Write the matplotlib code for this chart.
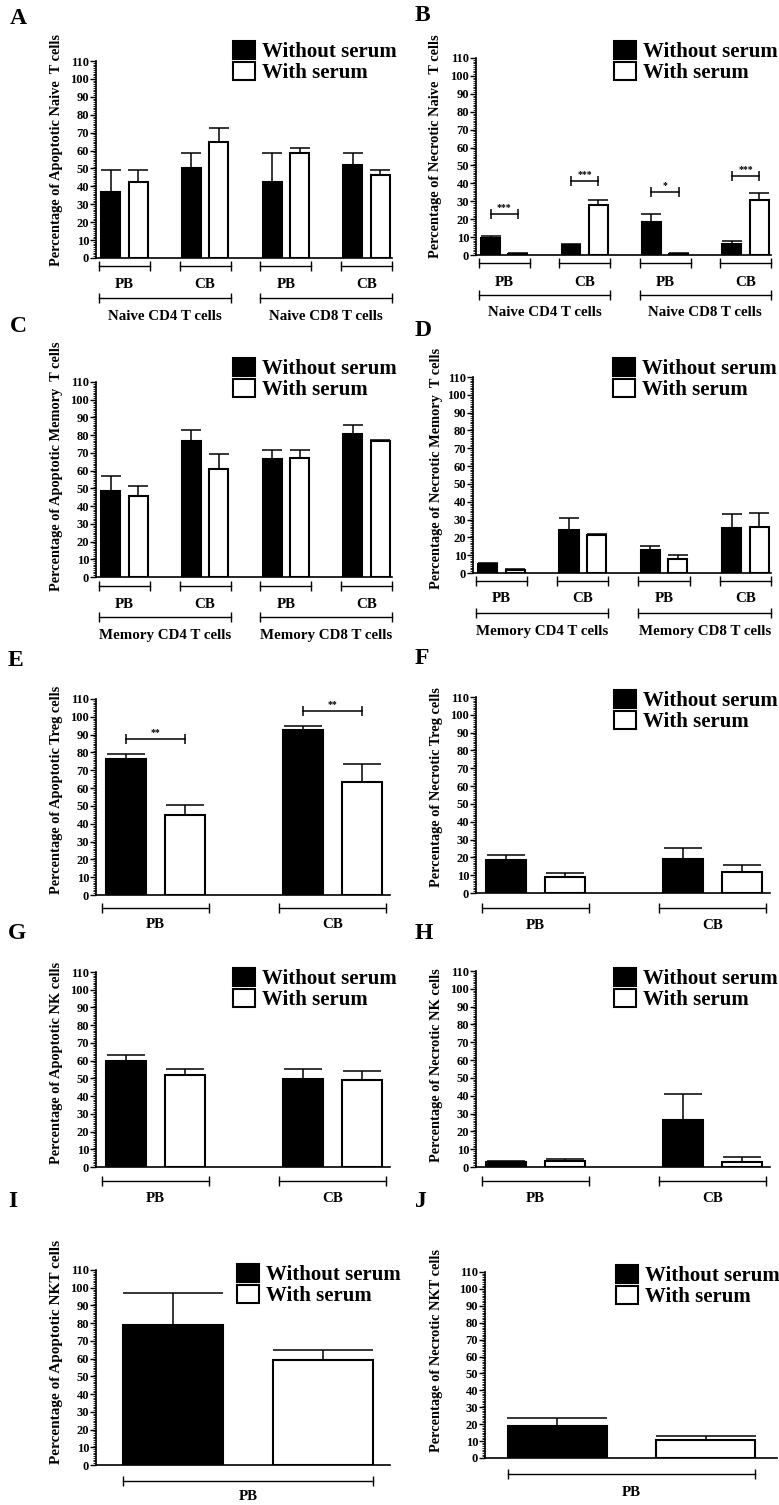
import numpy as np
import matplotlib
matplotlib.use('Agg')
import matplotlib.pyplot as plt
from matplotlib import transforms

# ---- data ----
sites4 = ['PB', 'CB', 'PB', 'CB']
sites2 = ['PB', 'CB']
sites1 = ['PB']
naive_groups = ['Naive CD4 T cells', 'Naive CD8 T cells']
memory_groups = ['Memory CD4 T cells', 'Memory CD8 T cells']

apo_naive_wo = [36.9, 50.0, 42.3, 51.8]
apo_naive_wo_err = [12.1, 8.4, 16.1, 7.1]
apo_naive_w = [42.5, 64.5, 58.7, 46.2]
apo_naive_w_err = [6.9, 8.0, 3.0, 3.2]

nec_naive_wo = [9.7, 5.4, 18.4, 6.3]
nec_naive_wo_err = [1.1, 0.7, 4.5, 1.5]
nec_naive_w = [0.7, 27.9, 0.7, 30.7]
nec_naive_w_err = [0.5, 2.6, 0.5, 3.7]
nec_naive_sig = ['***', '***', '*', '***']
nec_naive_sig_y = [22.9, 41.1, 35.2, 43.9]

apo_mem_wo = [48.5, 76.5, 66.7, 80.8]
apo_mem_wo_err = [8.3, 6.5, 5.1, 5.2]
apo_mem_w = [45.5, 60.9, 67.1, 76.5]
apo_mem_w_err = [6.0, 8.5, 4.7, 0.9]

nec_mem_wo = [5.0, 24.2, 13.0, 25.5]
nec_mem_wo_err = [0.6, 6.9, 2.3, 7.5]
nec_mem_w = [1.7, 21.1, 7.8, 25.7]
nec_mem_w_err = [0.5, 0.7, 2.1, 8.0]

apo_treg_wo = [76.3, 92.6]
apo_treg_wo_err = [2.7, 2.3]
apo_treg_w = [44.9, 63.6]
apo_treg_w_err = [5.6, 9.7]
apo_treg_sig = ['**', '**']
apo_treg_sig_y = [87.3, 103.3]

nec_treg_wo = [18.4, 19.0]
nec_treg_wo_err = [3.0, 6.3]
nec_treg_w = [9.2, 12.0]
nec_treg_w_err = [2.3, 3.6]

apo_nk_wo = [59.6, 49.8]
apo_nk_wo_err = [3.8, 5.3]
apo_nk_w = [51.7, 49.3]
apo_nk_w_err = [3.8, 4.7]

nec_nk_wo = [2.8, 26.2]
nec_nk_wo_err = [0.8, 15.0]
nec_nk_w = [3.6, 3.0]
nec_nk_w_err = [0.9, 2.4]

apo_nkt_wo = [79.0]
apo_nkt_wo_err = [18.0]
apo_nkt_w = [59.5]
apo_nkt_w_err = [5.5]

nec_nkt_wo = [18.7]
nec_nkt_wo_err = [4.9]
nec_nkt_w = [10.4]
nec_nkt_w_err = [2.4]

# ---- figure ----
plt.rcParams['font.family'] = ['Liberation Serif', 'DejaVu Serif']
plt.rcParams['font.weight'] = 'bold'
plt.rcParams['axes.labelweight'] = 'bold'

W, H = 779, 1505
fig = plt.figure(figsize=(W / 100, H / 100), dpi=100)


def add_ax(l, t, r, b):
    return fig.add_axes([l / W, 1 - b / H, (r - l) / W, (b - t) / H])


def below(ax, px):
    base = transforms.blended_transform_factory(ax.transData, ax.transAxes)
    return transforms.offset_copy(base, fig=fig, y=-px, units='dots')


def hbracket(ax, x0, x1, px):
    ax.plot([x0, x1], [0, 0], transform=below(ax, px), color='k', lw=1.0,
            marker='|', ms=7, mew=1.0, clip_on=False)


def setup(ax, xlim, ylabel, lab_dx, lab_yc, lab_size=10.4):
    ax.set_xlim(*xlim)
    ax.set_ylim(0, 110)
    ax.set_yticks(np.arange(0, 111, 10))
    ax.set_yticks(np.arange(0, 111, 1), minor=True)
    ax.tick_params(axis='y', which='major', length=4, width=1.0, pad=1, labelsize=9)
    ax.tick_params(axis='y', which='minor', length=2, width=0.6)
    ax.set_xticks([])
    for s in ['top', 'right']:
        ax.spines[s].set_visible(False)
    for s in ['left', 'bottom']:
        ax.spines[s].set_linewidth(1.2)
    ax.set_ylabel(ylabel, fontsize=lab_size)
    axw = ax.get_position().width * W
    ax.yaxis.set_label_coords(-lab_dx / axw, lab_yc)


def bars(ax, x, off, wo, wo_err, w, w_err, cap):
    z = np.zeros(len(wo))
    ekw = dict(elinewidth=1.1, capthick=1.1, ecolor='black')
    ax.bar(x, wo, width=1.0, color='black', edgecolor='black', linewidth=1.5,
           yerr=[z, wo_err], capsize=cap, error_kw=ekw, label='Without serum')
    ax.bar(x + off, w, width=1.0, color='white', edgecolor='black', linewidth=1.5,
           yerr=[z, w_err], capsize=cap, error_kw=ekw, label='With serum')


def legend(ax, px, py):
    ax.legend(loc='upper left', bbox_to_anchor=(px / W, 1 - py / H),
              bbox_transform=fig.transFigure, frameon=False,
              prop=dict(family='Liberation Serif', weight='bold', size=15),
              handlelength=1.05, handleheight=0.95, labelspacing=0.0,
              handletextpad=0.35, borderpad=0, borderaxespad=0)


def site_labels(ax, x, off, names, dy_br, dy_txt, margin):
    for xi, nm in zip(x, names):
        hbracket(ax, xi - 0.5 - margin, xi + off + 0.5 + margin, dy_br)
        ax.text(xi + off / 2, 0, nm, transform=below(ax, dy_txt),
                ha='center', va='center', fontsize=10.8)


def group_labels(ax, x, off, names, margin):
    for k, nm in enumerate(names):
        x0 = x[2 * k] - 0.5 - margin
        x1 = x[2 * k + 1] + off + 0.5 + margin
        hbracket(ax, x0, x1, 40)
        ax.text((x0 + x1) / 2, 0, nm, transform=below(ax, 58),
                ha='center', va='center', fontsize=10.8)


def sig_marks(ax, x, off, marks, ys):
    for xi, m, y in zip(x, marks, ys):
        ax.plot([xi, xi + off], [y, y], color='k', lw=1.1, marker='|', ms=7, mew=1.1)
        ax.text(xi + off / 2, y + 1.2, m, ha='center', va='bottom', fontsize=7)


x4 = np.arange(4) * 4.26
off4 = 1.45
xlim4 = (-0.77, 14.85)
x2 = np.arange(2) * 4.425
off2 = 1.475
xlim2 = (-0.75, 6.6)
x1 = np.array([0.0])
off1 = 1.5

# A
ax = add_ax(96, 61, 392, 258)
bars(ax, x4, off4, apo_naive_wo, apo_naive_wo_err, apo_naive_w, apo_naive_w_err, 7)
setup(ax, xlim4, 'Percentage of Apoptotic Naive  T cells', 33, 0.548)
legend(ax, 233, 41)
site_labels(ax, x4, off4, sites4, 8, 26, 0.12)
group_labels(ax, x4, off4, naive_groups, 0.12)

# B
ax = add_ax(476, 58, 771, 255)
bars(ax, x4, off4, nec_naive_wo, nec_naive_wo_err, nec_naive_w, nec_naive_w_err, 7)
setup(ax, xlim4, 'Percentage of Necrotic Naive  T cells', 34, 0.553)
legend(ax, 614, 41)
sig_marks(ax, x4, off4, nec_naive_sig, nec_naive_sig_y)
site_labels(ax, x4, off4, sites4, 8, 27, 0.12)
group_labels(ax, x4, off4, naive_groups, 0.12)

# C
ax = add_ax(96, 382, 392, 577)
bars(ax, x4, off4, apo_mem_wo, apo_mem_wo_err, apo_mem_w, apo_mem_w_err, 7)
setup(ax, xlim4, 'Percentage of Apoptotic Memory  T cells', 33, 0.569)
legend(ax, 233, 358)
site_labels(ax, x4, off4, sites4, 9, 27, 0.12)
group_labels(ax, x4, off4, memory_groups, 0.12)

# D
ax = add_ax(473, 377, 771, 573)
bars(ax, x4, off4, nec_mem_wo, nec_mem_wo_err, nec_mem_w, nec_mem_w_err, 7)
setup(ax, xlim4, 'Percentage of Necrotic Memory  T cells', 30, 0.536)
legend(ax, 613, 358)
site_labels(ax, x4, off4, sites4, 8, 26, 0.12)
group_labels(ax, x4, off4, memory_groups, 0.12)

# E
ax = add_ax(96, 699, 390, 895)
bars(ax, x2, off2, apo_treg_wo, apo_treg_wo_err, apo_treg_w, apo_treg_w_err, 14)
setup(ax, xlim2, 'Percentage of Apoptotic Treg cells', 33, 0.536)
sig_marks(ax, x2, off2, apo_treg_sig, apo_treg_sig_y)
site_labels(ax, x2, off2, sites2, 13, 30, 0.1)

# F
ax = add_ax(476, 697, 770, 893)
bars(ax, x2, off2, nec_treg_wo, nec_treg_wo_err, nec_treg_w, nec_treg_w_err, 14)
setup(ax, xlim2, 'Percentage of Necrotic Treg cells', 33, 0.538)
legend(ax, 614, 690)
site_labels(ax, x2, off2, sites2, 15, 32, 0.1)

# G
ax = add_ax(96, 972, 390, 1167)
bars(ax, x2, off2, apo_nk_wo, apo_nk_wo_err, apo_nk_w, apo_nk_w_err, 14)
setup(ax, xlim2, 'Percentage of Apoptotic NK cells', 33, 0.536)
legend(ax, 233, 968)
site_labels(ax, x2, off2, sites2, 14, 31, 0.1)

# H
ax = add_ax(476, 971, 770, 1167)
bars(ax, x2, off2, nec_nk_wo, nec_nk_wo_err, nec_nk_w, nec_nk_w_err, 14)
setup(ax, xlim2, 'Percentage of Necrotic NK cells', 33, 0.52)
legend(ax, 614, 968)
site_labels(ax, x2, off2, sites2, 14, 31, 0.1)

# I
ax = add_ax(96, 1270, 390, 1465)
bars(ax, x1, off1, apo_nkt_wo, apo_nkt_wo_err, apo_nkt_w, apo_nkt_w_err, 36)
setup(ax, (-0.77, 2.17), 'Percentage of Apoptotic NKT cells', 33, 0.58, 11)
legend(ax, 237, 1264)
site_labels(ax, x1, off1, sites1, 16, 32, 0.0)

# J
ax = add_ax(485, 1272, 777, 1458)
bars(ax, x1, off1, nec_nkt_wo, nec_nkt_wo_err, nec_nkt_w, nec_nkt_w_err, 36)
setup(ax, (-0.73, 2.22), 'Percentage of Necrotic NKT cells', 42, 0.58)
legend(ax, 616, 1265)
site_labels(ax, x1, off1, sites1, 16, 34, 0.0)

# panel letters
letters = [('A', 10, 8), ('B', 415, 5), ('C', 10, 316), ('D', 415, 320),
           ('E', 8, 650), ('F', 415, 648), ('G', 8, 923), ('H', 415, 923),
           ('I', 8, 1191), ('J', 415, 1191)]
for t, px, py in letters:
    fig.text(px / W, 1 - py / H, t, fontsize=17, ha='left', va='top')

fig.savefig('out.png', dpi=100)
